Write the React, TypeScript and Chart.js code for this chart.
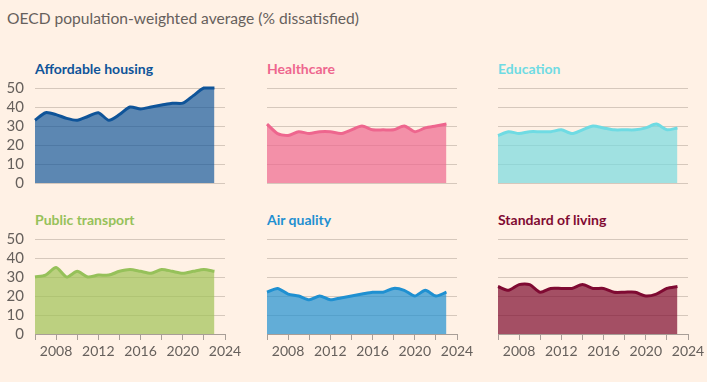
import React, { useEffect, useRef } from "react";
import { Chart, registerables } from "chart.js";

Chart.register(...registerables);

const years = [2006, 2007, 2008, 2009, 2010, 2011, 2012, 2013, 2014, 2015, 2016, 2017, 2018, 2019, 2020, 2021, 2022, 2023];
const yTicks = [0, 10, 20, 30, 40, 50];
const xLabelYears = [2008, 2012, 2016, 2020, 2024];

const affordableHousing = [33, 37, 36, 34, 33, 35, 37, 33, 36, 40, 39, 40, 41, 42, 42, 46, 50, 50];
const healthcare = [31, 26, 25, 27, 26, 27, 27, 26, 28, 30, 28, 28, 28, 30, 27, 29, 30, 31];
const education = [25, 27, 26, 27, 27, 27, 28, 26, 28, 30, 29, 28, 28, 28, 29, 31, 28, 29];
const publicTransport = [30, 31, 35, 30, 33, 30, 31, 31, 33, 34, 33, 32, 34, 33, 32, 33, 34, 33];
const airQuality = [22, 24, 21, 20, 18, 20, 18, 19, 20, 21, 22, 22, 24, 23, 20, 23, 20, 22];
const standardOfLiving = [25, 23, 26, 26, 22, 24, 24, 24, 26, 24, 24, 22, 22, 22, 20, 21, 24, 25];

const panelTitles = ["Affordable housing", "Healthcare", "Education", "Public transport", "Air quality", "Standard of living"];
const panelSeries = [affordableHousing, healthcare, education, publicTransport, airQuality, standardOfLiving];
const lineColors = ["#0f5499", "#ee668e", "#6fdbe3", "#96c15a", "#1f90d1", "#7f0a32"];
const fillColors = ["rgba(15,84,153,0.68)", "rgba(238,102,142,0.7)", "rgba(120,218,224,0.7)", "rgba(160,194,86,0.7)", "rgba(31,144,209,0.7)", "rgba(125,10,45,0.7)"];

const BG = "#fff1e5";
const FONT = "Lato, 'Open Sans', sans-serif";
const GRID = "#d6c8bc";
const AXIS = "#a89e97";
const TEXT = "#66605c";

const colLeft = [35, 267, 498];
const rowTop = [88, 239];
const PLOT_W = 190;
const PLOT_H = 95;
const PAD_TOP = 22;
const PAD_RIGHT = 22;

function Panel({ idx }: { idx: number }) {
  const ref = useRef<HTMLCanvasElement>(null);
  const col = idx % 3;
  const row = Math.floor(idx / 3);
  const yW = col === 0 ? 35 : 10;
  const xH = row === 1 ? 40 : 22;
  const left = colLeft[col] - yW;
  const top = rowTop[row] - PAD_TOP;
  const width = yW + PLOT_W + PAD_RIGHT;
  const height = PAD_TOP + PLOT_H + xH;

  useEffect(() => {
    if (!ref.current) return;
    const data = panelSeries[idx];
    const chart = new Chart(ref.current, {
      type: "line",
      data: {
        labels: years,
        datasets: [
          {
            data: years.map((y, i) => ({ x: y, y: data[i] })),
            borderColor: lineColors[idx],
            backgroundColor: fillColors[idx],
            borderWidth: 3,
            fill: "origin",
            pointRadius: 0,
            tension: 0.25,
            clip: 5,
            borderJoinStyle: "round",
          } as any,
        ],
      },
      options: {
        animation: false,
        responsive: false,
        maintainAspectRatio: false,
        events: [],
        layout: { padding: { top: PAD_TOP, right: PAD_RIGHT, bottom: row === 1 ? 0 : xH, left: 0 } },
        plugins: { legend: { display: false }, tooltip: { enabled: false }, title: { display: false } },
        scales: {
          x: {
            type: "linear",
            display: row === 1,
            min: 2006,
            max: 2024,
            grid: { display: true, drawOnChartArea: false, drawTicks: true, tickLength: 6, color: AXIS, lineWidth: 1 },
            border: { display: true, color: AXIS, width: 1 },
            ticks: {
              stepSize: 2,
              autoSkip: false,
              maxRotation: 0,
              padding: 3,
              color: TEXT,
              font: { family: FONT, size: 14 },
              callback: (v: any) => (xLabelYears.includes(Number(v)) ? String(v) : ""),
            },
            afterFit: (s: any) => {
              s.height = row === 1 ? xH : 0;
            },
          },
          y: {
            type: "linear",
            min: 0,
            max: 50,
            afterBuildTicks: (s: any) => {
              s.ticks = yTicks.map((v) => ({ value: v }));
            },
            grid: { color: GRID, lineWidth: 1, drawTicks: false },
            border: { display: false },
            ticks: {
              display: col === 0,
              autoSkip: false,
              padding: 11,
              color: TEXT,
              font: { family: FONT, size: 15 },
            },
            afterFit: (s: any) => {
              s.width = yW;
            },
          },
        },
      } as any,
    });
    return () => chart.destroy();
  }, [idx]);

  return (
    <>
      <div
        style={{
          position: "absolute",
          left: colLeft[col],
          top: row === 0 ? 60 : 211,
          font: `bold 14px ${FONT}`,
          color: lineColors[idx],
          whiteSpace: "nowrap",
          lineHeight: "18px",
        }}
      >
        {panelTitles[idx]}
      </div>
      <canvas
        ref={ref}
        width={width}
        height={height}
        style={{ position: "absolute", left, top, width, height }}
      />
    </>
  );
}

export default function App() {
  return (
    <div
      style={{
        position: "absolute",
        left: 0,
        top: 0,
        width: 707,
        height: 382,
        overflow: "hidden",
        background: BG,
      }}
    >
      <div
        style={{
          position: "absolute",
          left: 7,
          top: 8,
          font: `15.6px ${FONT}`,
          color: TEXT,
          whiteSpace: "nowrap",
          lineHeight: "20px",
        }}
      >
        OECD population-weighted average (% dissatisfied)
      </div>
      {[0, 1, 2, 3, 4, 5].map((i) => (
        <Panel key={i} idx={i} />
      ))}
    </div>
  );
}
